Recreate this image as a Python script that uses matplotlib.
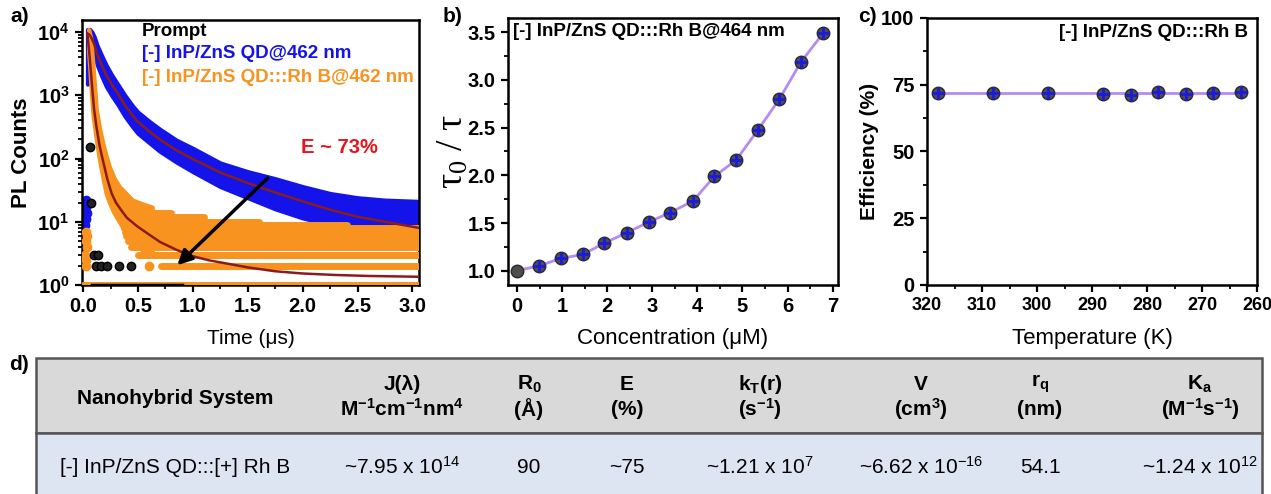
import numpy as np
import matplotlib
matplotlib.use('Agg')
import matplotlib.pyplot as plt
from matplotlib.patches import Rectangle
from matplotlib.ticker import MultipleLocator, LogLocator, NullFormatter

plt.rcParams['font.family'] = ['Liberation Sans', 'DejaVu Sans']
plt.rcParams['mathtext.default'] = 'regular'
plt.rcParams['font.weight'] = 'bold'
plt.rcParams['axes.linewidth'] = 1.8

#%% data -- a) PL decay
# QD alone (blue): band of measured points + fit
blue_t = [0.04, 0.06, 0.08, 0.10, 0.13, 0.17, 0.21, 0.26, 0.32, 0.38, 0.45, 0.50,
          0.60, 0.70, 0.85, 1.00, 1.25, 1.50, 1.75, 2.00, 2.25, 2.50, 2.75, 3.06]
blue_hi = [11000, 11000, 10000, 8500, 6000, 4200, 3000, 2100, 1450, 1000, 680, 540,
           390, 290, 195, 145, 85, 62, 48, 36, 28, 24, 22, 21]
blue_lo = [1500, 6000, 5500, 4500, 3000, 2000, 1400, 1000, 700, 470, 320, 250,
           180, 130, 88, 62, 36, 24, 16, 11.5, 9, 7.5, 6.5, 6]
blue_fit = [9500, 9000, 7800, 6500, 4400, 3000, 2100, 1500, 1050, 700, 480, 380,
            270, 200, 135, 98, 60, 41, 29, 21, 15.5, 12, 10, 8]
blue_rise_t = [0.015, 0.02, 0.025, 0.03, 0.03, 0.035]
blue_rise_c = [9, 13, 11, 17, 22, 14]

# QD + Rh B (orange)
orange_t = [0.05, 0.07, 0.09, 0.12, 0.15, 0.18, 0.21, 0.24, 0.28, 0.33, 0.40, 0.45, 0.55, 0.63]
orange_hi = [11000, 8000, 3000, 600, 300, 173, 110, 74, 50, 36, 27, 22, 19, 17]
orange_lo = [5000, 1500, 500, 200, 94, 50, 28, 20, 14, 10, 6.5, 4.6, 3.5, 3]
orange_fit_t = [0.04, 0.06, 0.08, 0.10, 0.12, 0.15, 0.18, 0.22, 0.26, 0.30, 0.35, 0.40, 0.50,
                0.60, 0.70, 0.85, 1.00, 1.15, 1.30, 1.50, 1.75, 2.00, 2.30, 2.60, 3.06]
orange_fit = [9000, 4000, 1500, 600, 330, 160, 94, 48, 28, 20, 15, 11.5, 8.3,
              6.3, 4.8, 3.6, 2.85, 2.45, 2.2, 1.9, 1.65, 1.52, 1.44, 1.39, 1.35]
# photon-count levels seen at long times
orange_levels = [1, 2, 3, 4, 5, 6, 7, 8, 9, 10, 12, 14]
level_start = [0.00, 0.71, 0.50, 0.44, 0.41, 0.39, 0.38, 0.37, 0.36, 0.35, 0.34, 0.33]
level_end = [3.06, 3.06, 3.06, 3.06, 3.06, 3.06, 3.06, 3.06, 2.40, 1.60, 1.10, 0.80]
orange_extra_t = [0.02, 0.025, 0.03, 0.03, 0.035, 0.04, 0.03, 0.60]
orange_extra_c = [3, 5, 2.5, 7, 4, 6, 2, 2]

# prompt (IRF)
prompt_t = [0.06, 0.075, 0.10, 0.12, 0.135, 0.165, 0.22, 0.33, 0.44]
prompt_c = [150, 20, 3, 2, 3, 2, 2, 2, 2]
prompt_ones = [0.08, 0.90]

#%% data -- b) Stern-Volmer
b_conc = [0, 0.48, 0.98, 1.46, 1.94, 2.44, 2.92, 3.40, 3.90, 4.38, 4.86, 5.35, 5.82, 6.30, 6.79]
b_ratio = [1.00, 1.05, 1.13, 1.17, 1.29, 1.40, 1.51, 1.61, 1.73, 1.99, 2.16, 2.48, 2.80, 3.19, 3.49]

#%% data -- c) efficiency vs temperature
c_temp = [318, 308, 298, 288, 283, 278, 273, 268, 263]
c_eff = [71.9, 71.9, 71.9, 71.5, 71.3, 72.1, 71.4, 71.8, 72.1]
c_fit = 72.0

#%% data -- d) table
col_head_top = ['J(λ)', 'R$_0$', 'E', 'k$_T$(r)', 'V', 'r$_q$', 'K$_a$']
col_head_bot = ['M$^{-1}$cm$^{-1}$nm$^4$', '(Å)', '(%)', '(s$^{-1}$)', '(cm$^3$)', '(nm)', '(M$^{-1}$s$^{-1}$)']
row_label = '[-] InP/ZnS QD:::[+] Rh B'
row_values = ['~7.95 x 10$^{14}$', '90', '~75', '~1.21 x 10$^{7}$', '~6.62 x 10$^{-16}$', '54.1', '~1.24 x 10$^{12}$']

BLUE = '#1414ea'
ORANGE = '#f7931e'
FIT = '#8b1c1c'
LAV = '#b48cf2'

W, H = 1271, 494
fig = plt.figure(figsize=(W / 100, H / 100), dpi=100)


def px_axes(l, r, t, b):
    return fig.add_axes([l / W, 1 - b / H, (r - l) / W, (b - t) / H])


def style(ax, xsize=14.5):
    ax.tick_params(which='major', direction='out', length=5, width=1.6, labelsize=14.5, pad=4,
                   top=False, right=False)
    ax.tick_params(axis='x', labelsize=xsize)
    ax.tick_params(which='minor', direction='out', length=3, width=1.3, top=False, right=False)
    for lab in ax.get_xticklabels() + ax.get_yticklabels():
        lab.set_fontweight('bold')


#%% a)
ax = px_axes(82, 419, 20, 285)
ax.set_yscale('log')
ax.fill_between(blue_t, blue_lo, blue_hi, color=BLUE, lw=3, zorder=2)
ax.plot(blue_rise_t, blue_rise_c, 'o', ms=6, mfc=BLUE, mec=BLUE, zorder=2)
ax.fill_between(orange_t, orange_lo, orange_hi, color=ORANGE, lw=3, zorder=3)
for lv, t0, t1 in zip(orange_levels, level_start, level_end):
    ax.plot([t0, t1], [lv, lv], color=ORANGE, lw=5, solid_capstyle='round', zorder=3)
ax.plot(orange_extra_t, orange_extra_c, 'o', ms=6, mfc=ORANGE, mec=ORANGE, zorder=3)
ax.plot(prompt_ones, [1, 1], color='k', lw=2.5, zorder=4)
ax.plot(prompt_t, prompt_c, 'o', ms=6, mfc='#222222', mec='k', zorder=4)
ax.plot(blue_t, blue_fit, color=FIT, lw=1.8, zorder=5)
ax.plot(orange_fit_t, orange_fit, color=FIT, lw=1.8, zorder=5)
ax.annotate('', xy=(0.84, 1.92), xytext=(1.70, 52.7),
            arrowprops=dict(arrowstyle='-|>', lw=2.5, color='k', mutation_scale=22), zorder=6)
ax.text(0.763, 0.517, 'E ~ 73%', color='#e8141c', fontsize=14.5, fontweight='bold',
        ha='center', va='center', transform=ax.transAxes)
ax.text(0.177, 0.956, 'Prompt', color='k', fontsize=13.5, fontweight='bold',
        va='center', transform=ax.transAxes)
ax.text(0.177, 0.874, '[-] InP/ZnS QD@462 nm', color=BLUE, fontsize=13.5, fontweight='bold',
        va='center', transform=ax.transAxes)
ax.text(0.177, 0.784, '[-] InP/ZnS QD:::Rh B@462 nm', color=ORANGE, fontsize=13.5,
        fontweight='bold', va='center', transform=ax.transAxes)
ax.set_xlim(-0.01, 3.06)
ax.set_ylim(1, 1.55e4)
ax.xaxis.set_major_locator(MultipleLocator(0.5))
ax.xaxis.set_minor_locator(MultipleLocator(0.25))
ax.xaxis.set_major_formatter(matplotlib.ticker.FormatStrFormatter('%.1f'))
ax.yaxis.set_major_locator(LogLocator(base=10, numticks=10))
ax.yaxis.set_minor_locator(LogLocator(base=10, subs=np.arange(2, 10), numticks=20))
ax.yaxis.set_minor_formatter(NullFormatter())
ax.set_ylabel('PL Counts', fontsize=16, fontweight='bold', va='center')
ax.yaxis.set_label_coords(-0.181, 0.5)
ax.set_xlabel('Time (μs)', fontsize=15, fontweight='normal', va='center')
ax.xaxis.set_label_coords(0.5, -0.2)
style(ax)

#%% b)
bx = px_axes(508, 838, 18, 285)
bx.plot(b_conc, b_ratio, color=LAV, lw=2, zorder=2)
bx.plot(b_conc, b_ratio, 'o', ms=9, mfc='#4d4d4d', mec='#2a2a2a', mew=1, zorder=3)
bx.plot(b_conc[1:], b_ratio[1:], '+', ms=9, mec='#1a1ae0', mew=2, zorder=4)
bx.text(0.015, 0.948, '[-] InP/ZnS QD:::Rh B@464 nm', fontsize=13.5, fontweight='bold',
        va='center', transform=bx.transAxes)
bx.set_xlim(-0.2, 7.12)
bx.set_ylim(0.85, 3.65)
bx.xaxis.set_major_locator(MultipleLocator(1))
bx.xaxis.set_minor_locator(MultipleLocator(0.5))
bx.yaxis.set_major_locator(MultipleLocator(0.5))
bx.yaxis.set_minor_locator(MultipleLocator(0.25))
bx.yaxis.set_major_formatter(matplotlib.ticker.FormatStrFormatter('%.1f'))
bx.set_ylabel('τ$_0$ / τ', fontsize=27, fontweight='normal', family='Liberation Serif', va='center')
bx.yaxis.set_label_coords(-0.167, 0.5)
bx.set_xlabel('Concentration (μM)', fontsize=16, fontweight='normal', va='center')
bx.xaxis.set_label_coords(0.5, -0.199)
style(bx)

#%% c)
cx = px_axes(927, 1257, 18, 285)
cx.plot([c_temp[0], c_temp[-1]], [c_fit, c_fit], color=LAV, lw=2, zorder=2)
cx.plot(c_temp, c_eff, 'o', ms=9, mfc='#4d4d4d', mec='#2a2a2a', mew=1, zorder=3)
cx.plot(c_temp, c_eff, '+', ms=9, mec='#1a1ae0', mew=2, zorder=4)
cx.text(0.973, 0.944, '[-] InP/ZnS QD:::Rh B', fontsize=13.5, fontweight='bold',
        ha='right', va='center', transform=cx.transAxes)
cx.set_xlim(320, 260)
cx.set_ylim(0, 100)
cx.xaxis.set_major_locator(MultipleLocator(10))
cx.xaxis.set_minor_locator(MultipleLocator(5))
cx.yaxis.set_major_locator(MultipleLocator(25))
cx.yaxis.set_minor_locator(MultipleLocator(12.5))
cx.set_ylabel('Efficiency (%)', fontsize=15, fontweight='bold', va='center')
cx.yaxis.set_label_coords(-0.173, 0.5)
cx.set_xlabel('Temperature (K)', fontsize=16, fontweight='normal', va='center')
cx.xaxis.set_label_coords(0.5, -0.199)
style(cx, xsize=13)

#%% d) table
dx = px_axes(0, W, 0, H)
dx.set_xlim(0, W)
dx.set_ylim(H, 0)
dx.axis('off')
dx.patch.set_alpha(0)
dx.add_patch(Rectangle((36, 358), 1226, 75, facecolor='#d9d9d9', edgecolor='#555555', lw=1.8))
dx.add_patch(Rectangle((36, 433), 1226, 80, facecolor='#dde5f3', edgecolor='#555555', lw=1.8,
                       clip_on=True))
col_x = [402, 529, 627, 760, 921, 1040, 1200]
dx.text(175, 398, 'Nanohybrid System', fontsize=15, fontweight='bold', ha='center', va='center')
for xc, top, bot in zip(col_x, col_head_top, col_head_bot):
    dx.text(xc, 384, top, fontsize=15, fontweight='bold', ha='center', va='center')
    dx.text(xc, 409, bot, fontsize=15, fontweight='bold', ha='center', va='center')
dx.text(175, 467, row_label, fontsize=15, fontweight='normal', ha='center', va='center')
for xc, val in zip(col_x, row_values):
    dx.text(xc, 467, val, fontsize=15, fontweight='normal', ha='center', va='center')

for lab, x, y in [('a)', 20, 16), ('b)', 453, 17), ('c)', 867, 17), ('d)', 19, 364)]:
    fig.text(x / W, 1 - y / H, lab, fontsize=15, fontweight='bold', ha='center', va='center')

fig.savefig('out.png', dpi=100)
